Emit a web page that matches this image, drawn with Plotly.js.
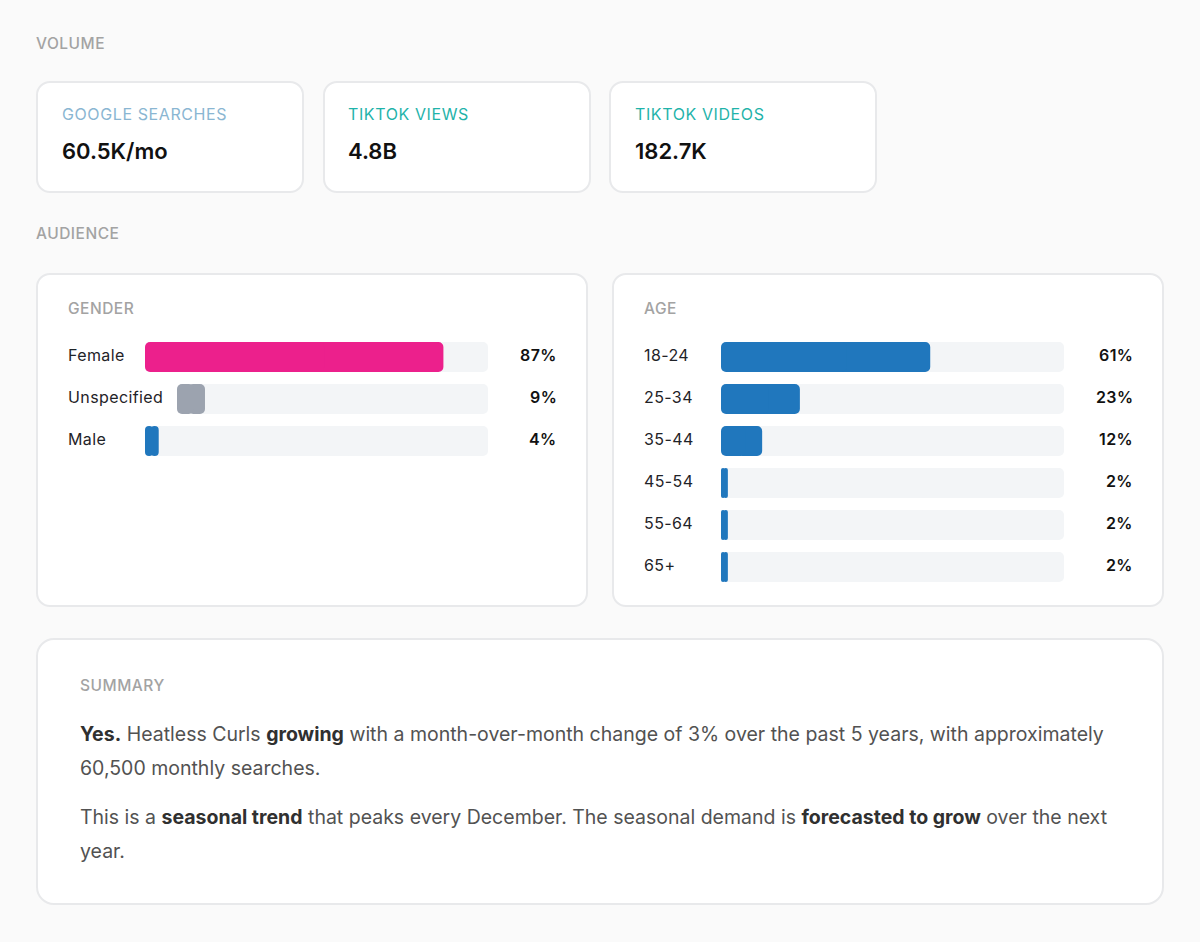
<!DOCTYPE html>
<html><head><meta charset="utf-8">
<script src="https://cdn.plot.ly/plotly-3.0.1.min.js"></script>
<style>
html,body{margin:0;padding:0;width:1200px;height:942px;overflow:hidden;background:#fafafa;font-family:Inter,sans-serif}
.card{position:absolute;box-sizing:border-box;background:#fff;border:2px solid #e8e9eb;border-radius:14px}
.sec{position:absolute;font-size:15.5px;font-weight:500;color:#a3a3a3;letter-spacing:.5px;line-height:20px}
.lab{position:absolute;font-size:16px;font-weight:400;letter-spacing:.6px;line-height:20px;white-space:nowrap}
.val{position:absolute;font-size:22px;font-weight:600;color:#111;line-height:28px;white-space:nowrap}
.p{position:absolute;left:80px;width:1045px;font-size:19.5px;line-height:34px;color:#525252}
.p b{font-weight:700;color:#303030}
.plot{position:absolute}
.annotation-text{letter-spacing:.4px}
</style></head><body>
<div class="sec" style="left:36px;top:34px">VOLUME</div>
<div class="card" style="left:36px;top:81px;width:268px;height:112px"></div>
<div class="card" style="left:323px;top:81px;width:268px;height:112px"></div>
<div class="card" style="left:609px;top:81px;width:268px;height:112px"></div>
<div class="lab" style="left:62px;top:104px;color:#8ab6d2">GOOGLE SEARCHES</div>
<div class="lab" style="left:348px;top:104px;color:#1fb3aa">TIKTOK VIEWS</div>
<div class="lab" style="left:635px;top:104px;color:#1fb3aa">TIKTOK VIDEOS</div>
<div class="val" style="left:62px;top:137px">60.5K/mo</div>
<div class="val" style="left:348px;top:137px">4.8B</div>
<div class="val" style="left:635px;top:137px">182.7K</div>
<div class="sec" style="left:36px;top:224px">AUDIENCE</div>
<div class="card" style="left:36px;top:273px;width:552px;height:334px"></div>
<div class="card" style="left:612px;top:273px;width:552px;height:334px"></div>
<div class="sec" style="left:68px;top:299px">GENDER</div>
<div class="sec" style="left:644px;top:299px">AGE</div>
<div id="gender" class="plot" style="left:36px;top:336px;width:552px;height:126px"></div>
<div id="age" class="plot" style="left:612px;top:336px;width:552px;height:252px"></div>
<div class="card" style="left:36px;top:638px;width:1128px;height:267px;border-radius:18px"></div>
<div class="sec" style="left:80px;top:676px">SUMMARY</div>
<div class="p" style="top:717px"><b>Yes.</b> Heatless Curls <b>growing</b> with a month-over-month change of 3% over the past 5 years, with approximately 60,500 monthly searches.</div>
<div class="p" style="top:800px">This is a <b>seasonal trend</b> that peaks every December. The seasonal demand is <b>forecasted to grow</b> over the next year.</div>
<script>
const genderCats = ['Female','Unspecified','Male'];
const genderVals = [87,9,4];
const genderColors = ['#ec208c','#9ca3af','#2077bd'];
const ageCats = ['18-24','25-34','35-44','45-54','55-64','65+'];
const ageVals = [61,23,12,2,2,2];
const ageColors = ['#2077bd','#2077bd','#2077bd','#2077bd','#2077bd','#2077bd'];
const TRACK = 100;

// Plotly rounds only a bar's tip, so each pill is two overlapping bars, tips outward.
function pill(c, v, color, xa){
  const common = {type:'bar',orientation:'h',y:[c],xaxis:xa,yaxis:'y',width:30/42,hoverinfo:'skip',
    marker:{color:color,cornerradius:5,line:{width:0}}};
  return [
    Object.assign({},common,{base:[v*0.4],x:[v*0.6]}),
    Object.assign({},common,{base:[v*0.6],x:[-v*0.6]})
  ];
}
function draw(id, cats, vals, colors, axisFor, domains){
  const W = 552, data = [], ann = [], layout = {
    width:W, height:cats.length*42, margin:{l:0,r:0,t:0,b:0},
    paper_bgcolor:'rgba(0,0,0,0)', plot_bgcolor:'rgba(0,0,0,0)',
    barmode:'overlay', showlegend:false,
    yaxis:{type:'category',categoryorder:'array',categoryarray:cats,range:[cats.length-0.5,-0.5],
           visible:false,fixedrange:true,domain:[0,1]}
  };
  Object.entries(domains).forEach(([k,d])=>{
    layout['xaxis'+(k==='x'?'':k.slice(1))] = {range:[0,TRACK],domain:[d[0]/W,d[1]/W],visible:false,
      fixedrange:true,anchor:'y'};
  });
  cats.forEach((c,i)=>{
    const xa = axisFor(i);
    data.push(...pill(c,TRACK,'#f3f5f7',xa));
    data.push(...pill(c,vals[i],colors[i],xa));
    ann.push({xref:'paper',yref:'y',x:30/W,y:c,yshift:2,text:c,showarrow:false,xanchor:'left',
      font:{family:'Inter',size:16,color:'#1f2328'}});
    ann.push({xref:'paper',yref:'y',x:522.5/W,y:c,yshift:2,text:vals[i]+'%',showarrow:false,xanchor:'right',
      font:{family:'Inter',size:16,color:'#111',weight:600}});
  });
  layout.annotations = ann;
  Plotly.newPlot(id,data,layout,{displayModeBar:false,staticPlot:true});
}
draw('gender',genderCats,genderVals,genderColors,i=>i===1?'x2':'x',{x:[109,452],x2:[141,452]});
draw('age',ageCats,ageVals,ageColors,i=>'x',{x:[109,452]});
</script>
</body></html>
